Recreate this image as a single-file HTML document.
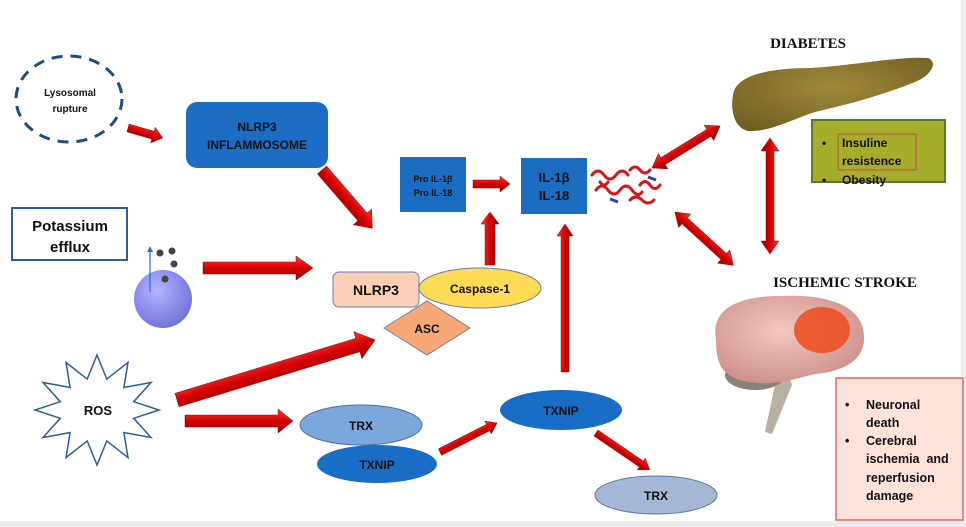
<!DOCTYPE html>
<html><head><meta charset="utf-8"><style>
html,body{margin:0;padding:0;background:#fff}
svg{display:block}
text{font-family:"Liberation Sans",sans-serif;font-weight:bold;fill:#111}
.s{font-family:"Liberation Serif",serif}
</style></head><body>
<svg width="966" height="527" viewBox="0 0 966 527" xmlns="http://www.w3.org/2000/svg">
<defs>
<linearGradient id="rg" x1="0" y1="0" x2="0" y2="1"><stop offset="0" stop-color="#ff3a3a"/><stop offset="0.5" stop-color="#d40000"/><stop offset="1" stop-color="#9a0000"/></linearGradient>
<radialGradient id="sph" cx="0.4" cy="0.35" r="0.7"><stop offset="0" stop-color="#b5b5ff"/><stop offset="1" stop-color="#6d6fd8"/></radialGradient>
<radialGradient id="pan" cx="0.5" cy="0.4" r="0.7"><stop offset="0" stop-color="#a08a3a"/><stop offset="1" stop-color="#6e5e20"/></radialGradient>
<radialGradient id="br" cx="0.45" cy="0.4" r="0.7"><stop offset="0" stop-color="#f5c8c0"/><stop offset="1" stop-color="#c98a85"/></radialGradient>
</defs>
<rect x="0" y="521" width="966" height="6" fill="#ececec"/>
<rect x="961" y="0" width="5" height="527" fill="#ececec"/>

<!-- Lysosomal -->
<ellipse cx="69" cy="99" rx="53" ry="43" fill="none" stroke="#1f4e79" stroke-width="3" stroke-dasharray="11,8"/>
<text x="70" y="96" font-size="10" text-anchor="middle">Lysosomal</text>
<text x="70" y="112" font-size="10" text-anchor="middle">rupture</text>

<!-- NLRP3 inflammosome -->
<rect x="186" y="102" width="142" height="66" rx="11" fill="#1c6ec4"/>
<text x="257" y="131" font-size="12" text-anchor="middle">NLRP3</text>
<text x="257" y="149" font-size="12" text-anchor="middle">INFLAMMOSOME</text>

<!-- Potassium -->
<rect x="12" y="208" width="115" height="52" fill="#fff" stroke="#2e5d9a" stroke-width="2"/>
<text x="70" y="231" font-size="15" text-anchor="middle">Potassium</text>
<text x="70" y="252" font-size="15" text-anchor="middle">efflux</text>

<!-- sphere -->
<circle cx="163" cy="299" r="29" fill="url(#sph)"/>
<circle cx="160" cy="253" r="3.5" fill="#444"/><circle cx="172" cy="251" r="3.5" fill="#444"/>
<circle cx="174" cy="264" r="3.5" fill="#444"/><circle cx="165" cy="279" r="3.5" fill="#444"/>
<line x1="150" y1="292" x2="150" y2="250" stroke="#2a6fd0" stroke-width="1.2"/>
<polygon points="147,252 150,246 153,252" fill="#2a6fd0"/>

<!-- complex -->
<polygon points="384,328 427,301 470,328 427,355" fill="#f7a876" stroke="#6a7fb0" stroke-width="1"/>
<text x="427" y="333" font-size="12" text-anchor="middle">ASC</text>
<rect x="333" y="272" width="86" height="35" rx="6" fill="#fbcfb3" stroke="#6a7fb0" stroke-width="1"/>
<text x="376" y="295" font-size="14" text-anchor="middle">NLRP3</text>
<ellipse cx="480" cy="288" rx="61" ry="20" fill="#fddb56" stroke="#6a7fb0" stroke-width="1"/>
<text x="480" y="293" font-size="12" text-anchor="middle">Caspase-1</text>

<!-- Pro IL / IL -->
<rect x="400" y="157" width="66" height="55" fill="#1b6dc1"/>
<text x="433" y="182" font-size="9" text-anchor="middle">Pro IL-1β</text>
<text x="433" y="196" font-size="9" text-anchor="middle">Pro IL-18</text>
<rect x="521" y="158" width="66" height="56" fill="#1b6dc1"/>
<text x="554" y="182" font-size="13" text-anchor="middle">IL-1β</text>
<text x="554" y="200" font-size="13" text-anchor="middle">IL-18</text>

<!-- protein -->
<g fill="none" stroke="#d8141a" stroke-width="3" stroke-linecap="round">
<path d="M592,175 q6,-8 12,0 t12,0 t12,0"/><path d="M596,190 q6,-8 12,0 t12,0 t12,0 t10,2"/>
<path d="M630,170 q5,-6 10,0 t10,0"/><path d="M630,200 q6,-6 12,0 t12,0"/>
<path d="M640,185 q5,-7 10,0 t10,0"/><path d="M600,182 q4,6 8,0"/>
</g>
<path d="M648,177 l8,3 M610,199 l8,3" stroke="#2a3fc0" stroke-width="3"/>

<!-- Diabetes -->
<text x="808" y="48" class="s" font-size="15" text-anchor="middle">DIABETES</text>
<path d="M733,95 C735,75 770,68 810,68 C850,66 900,56 928,58 C938,62 932,75 915,82 C880,96 850,104 815,112 C790,120 770,132 748,131 C735,128 730,112 733,95 Z" fill="url(#pan)"/>
<rect x="812" y="120" width="133" height="62" fill="#a5ad2a" stroke="#5b7a2c" stroke-width="2"/>
<rect x="838" y="134" width="78" height="36" fill="none" stroke="#c0504d" stroke-width="1"/>
<text x="822" y="147" font-size="12">•</text>
<text x="842" y="147" font-size="12">Insuline</text>
<text x="842" y="165" font-size="12">resistence</text>
<text x="822" y="184" font-size="12">•</text>
<text x="842" y="184" font-size="12">Obesity</text>

<!-- Stroke -->
<text x="845" y="287" class="s" font-size="15" text-anchor="middle">ISCHEMIC STROKE</text>
<path d="M785,360 L775,385 L765,432 L772,434 L792,385 Z" fill="#b8b0a0"/>
<ellipse cx="755" cy="375" rx="30" ry="15" fill="#8b8078"/>
<path d="M716,340 C710,308 740,296 780,296 C822,294 862,303 864,335 C866,362 840,372 815,374 C790,380 770,388 740,380 C720,374 716,360 716,340 Z" fill="url(#br)"/>
<ellipse cx="822" cy="330" rx="28" ry="23" fill="#ee4a1c" opacity="0.85"/>
<rect x="836" y="378" width="127" height="142" fill="#fde3d9" stroke="#e06666" stroke-width="1.5"/>
<g font-size="12.5"><text x="845" y="409">•</text><text x="866" y="409">Neuronal</text><text x="866" y="427">death</text>
<text x="845" y="445">•</text><text x="866" y="445">Cerebral</text><text x="866" y="463" xml:space="preserve">ischemia  and</text><text x="866" y="482">reperfusion</text><text x="866" y="500">damage</text></g>

<!-- ROS -->
<polygon points="159,410 133.7,418.3 151,437.5 123.9,432.6 128,457.6 106.8,440.9 97,465 87.2,440.9 66,457.6 70.1,432.6 43,437.5 60.3,418.3 35,410 60.3,401.7 43,382.5 70.1,387.4 66,362.4 87.2,379.1 97,355 106.8,379.1 128,362.4 123.9,387.4 151,382.5 133.7,401.7" fill="#fff" stroke="#2e5d9a" stroke-width="1.5"/>
<text x="98" y="415" font-size="13" text-anchor="middle">ROS</text>

<!-- TRX/TXNIP -->
<ellipse cx="361" cy="425" rx="61" ry="20" fill="#7ba7db" stroke="#4a6fa5" stroke-width="1"/>
<text x="361" y="430" font-size="12" text-anchor="middle">TRX</text>
<ellipse cx="377" cy="464" rx="60" ry="19" fill="#1a6dc4"/>
<text x="377" y="469" font-size="12" text-anchor="middle">TXNIP</text>
<ellipse cx="561" cy="410" rx="61" ry="20" fill="#1a6dc4"/>
<text x="561" y="415" font-size="12" text-anchor="middle">TXNIP</text>
<ellipse cx="656" cy="495" rx="61" ry="19" fill="#a4b8d4" stroke="#5a7aa5" stroke-width="1"/>
<text x="656" y="500" font-size="12" text-anchor="middle">TRX</text>

<!-- arrows -->
<g fill="url(#rg)" stroke="#a00000" stroke-width="0.5">
<g transform="translate(128,128) rotate(15.9)"><polygon points="0,-4 26,-4 26,-8 36,0 26,8 26,4 0,4"/></g>
<g transform="translate(322,170) rotate(49.2)"><polygon points="0,-6 62,-6 62,-12 77,0 62,12 62,6 0,6"/></g>
<g transform="translate(203,268)"><polygon points="0,-6 93,-6 93,-12 110,0 93,12 93,6 0,6"/></g>
<g transform="translate(177,400) rotate(-16.9)"><polygon points="0,-7 189,-7 189,-14 207,0 189,14 189,7 0,7"/></g>
<g transform="translate(185,421)"><polygon points="0,-6 93,-6 93,-12 108,0 93,12 93,6 0,6"/></g>
<g transform="translate(473,184)"><polygon points="0,-4 27,-4 27,-8 37,0 27,8 27,4 0,4"/></g>
<g transform="translate(490,265) rotate(-90)"><polygon points="0,-5 41,-5 41,-9 53,0 41,9 41,5 0,5"/></g>
<g transform="translate(565,372) rotate(-90)"><polygon points="0,-4 136,-4 136,-8 148,0 136,8 136,4 0,4"/></g>
<g transform="translate(440,452) rotate(-27)"><polygon points="0,-3.5 54,-3.5 54,-7 64,0 54,7 54,3.5 0,3.5"/></g>
<g transform="translate(596,433) rotate(34.4)"><polygon points="0,-3.5 55,-3.5 55,-7 65,0 55,7 55,3.5 0,3.5"/></g>
<g transform="translate(652,168) rotate(-31.7)"><polygon points="0,0 13,-9 13,-4 67,-4 67,-9 80,0 67,9 67,4 13,4 13,9"/></g>
<g transform="translate(675,212) rotate(42.4)"><polygon points="0,0 13,-9 13,-4 66,-4 66,-9 79,0 66,9 66,4 13,4 13,9"/></g>
<g transform="translate(770,138) rotate(90)"><polygon points="0,0 13,-9 13,-4 103,-4 103,-9 116,0 103,9 103,4 13,4 13,9"/></g>
</g>
</svg>
</body></html>
